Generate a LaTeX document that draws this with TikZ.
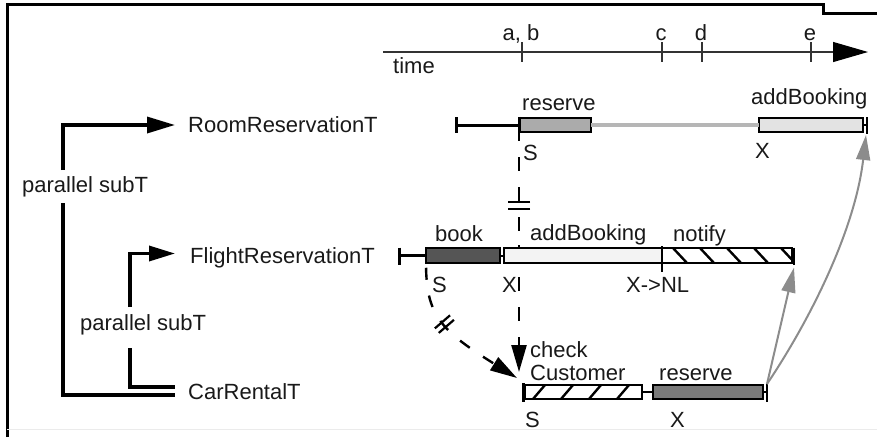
\documentclass[tikz,border=0pt]{standalone}
\usepackage{fontspec}
\setmainfont{Liberation Sans}
\usetikzlibrary{arrows.meta,decorations.markings}
\definecolor{roomres}{HTML}{ABABAB}
\definecolor{roomab}{HTML}{E3E3E3}
\definecolor{roomline}{HTML}{B6B6B6}
\definecolor{bookc}{HTML}{555555}
\definecolor{fabc}{HTML}{F3F3F3}
\definecolor{carres}{HTML}{7A7A7A}
\definecolor{depc}{HTML}{8C8C8C}
\begin{document}
\begin{tikzpicture}[x=1pt,y=-1pt,
  lbl/.style={font=\fontsize{22}{26}\selectfont, inner sep=0pt, text=black!90},
  task/.style={lbl, text height=15.8pt, text depth=0pt, anchor=west},
  seg/.style={draw=black, line width=2pt, minimum height=14.5pt, inner sep=0pt, outer sep=0pt, anchor=west},
  rowline/.style={line width=3pt},
  tick/.style={line width=3pt},
  endtick/.style={line width=2pt},
  tree/.style={line width=3.4pt},
  flow/.style={line width=2.4pt},
  dep/.style={draw=depc, line width=2pt, -{Triangle[length=25pt,width=14pt]}},
  hatch/.style={line width=2.4pt}
]
\useasboundingbox (0,0) rectangle (877,437);

% frame
\draw[line width=3pt] (7,437) -- (7,4) -- (823,4) -- (823,13) -- (877,13);
\draw[black!8, line width=1pt] (7,429) -- (877,429);

% time axis
\coordinate (tl0) at (383,52);
\coordinate (tl1) at (868,52);
\draw[line width=1.1pt, black!80, -{Triangle[length=35pt,width=20pt,black]}] (tl0) -- (tl1);
\foreach \x/\t [count=\i] in {522/{a, b},662/c,702/d,811/e}{
  \draw[line width=1.1pt, black!80] (\x,42) -- (\x,62);
  \node[lbl, anchor=base] (tk\i) at (\x-1,40) {\t};
}
\node[lbl, anchor=base west] (time) at (393,73) {time};

% transaction names and the subtransaction tree
\node[task] (room) at (188,125) {RoomReservationT};
\node[task] (flight) at (190,255.5) {FlightReservationT};
\node[task] (car) at (188,392) {CarRentalT};
\node[lbl, anchor=base west] (ps1) at (22,192) {parallel subT};
\node[lbl, anchor=base west] (ps2) at (80,330) {parallel subT};
\coordinate (j1) at (63,170);
\coordinate (j2) at (63,203);
\coordinate (j3) at (130,307);
\coordinate (j4) at (130,348);
\draw[tree, -{Triangle[length=28pt,width=16pt]}] (j1) |- ([xshift=-13pt]room.west);
\draw[tree] (j2) |- ([xshift=-13pt,yshift=-3pt]car.west);
\draw[tree, -{Triangle[length=26pt,width=15pt]}] (j3) |- ([xshift=-15pt,yshift=2pt]flight.west);
\draw[tree] (j4) |- ([xshift=-13pt,yshift=5pt]car.west);

% RoomReservationT row
\coordinate (rs) at (456,125);
\node[seg, fill=roomres, minimum width=72pt] (rres) at (519,125) {};
\node[seg, fill=roomab, minimum width=104pt] (rab) at (759,125) {};
\coordinate (re) at (867,125);
\draw[rowline] (rs) -- (rres.west);
\draw[tick] ([yshift=8pt]rs) -- ([yshift=-8pt]rs);
\draw[tick] ([yshift=1pt]rres.north west) -- (rres.south west);
\draw[line width=3.2pt, roomline] (rres.east) -- (rab.west);
\draw[endtick] (rab.east) -- (re);
\draw[endtick] ([yshift=8pt]re) -- ([yshift=-9pt]re);
\node[lbl, anchor=base west] (lrres) at (522,110) {reserve};
\node[lbl, anchor=base west] (lrab) at (751,104) {addBooking};
\node[lbl, anchor=base west] (lrs) at (523,160) {S};
\node[lbl, anchor=base west] (lrx) at (755,158) {X};

% ordering from RoomReservationT.reserve to CarRentalT, passing behind the flight row
\coordinate (ctip) at (519,372);
\draw[flow, dash pattern=on 14pt off 16pt, dash phase=5pt,
      -{Triangle[length=27pt,width=15pt]},
      postaction={decorate, decoration={markings,
        mark=at position 70pt with {\draw[solid,-,line width=2.2pt] (0,-11) -- (0,11) (7,-11) -- (7,11);}}}]
  (rres.south west) -- (ctip);

% FlightReservationT row
\coordinate (fs) at (399,255.5);
\node[seg, fill=bookc, minimum width=74pt] (fbook) at (426,255.5) {};
\node[seg, fill=fabc, minimum width=158pt] (fab) at (504,255.5) {};
\node[seg, fill=white, minimum width=130pt] (fnt) at (662,255.5) {};
\coordinate (fe) at (794,255.5);
\begin{scope}
  \clip (fnt.south west) rectangle (fnt.north east);
  \foreach \x in {673,700,727,754,781}
    \draw[hatch] (\x,248) -- (\x+14,263);
\end{scope}
\draw[line width=2pt] (fnt.south west) rectangle (fnt.north east);
\draw[rowline] (fs) -- (fbook.west);
\draw[tick] ([yshift=8pt]fs) -- ([yshift=-9pt]fs);
\draw[line width=2pt] (fbook.east) -- (fab.west);
\draw[endtick] ([yshift=2pt]fab.north east) -- ([yshift=-9pt]fab.south east);
\draw[line width=1.4pt] ([yshift=3pt]fab.north west -| ctip) -- (fab.north west -| ctip);
\draw[endtick] (fnt.east) -- (fe);
\draw[endtick] ([yshift=8pt]fe) -- ([yshift=-9pt]fe);
\node[lbl, anchor=base west] (lbook) at (435,241) {book};
\node[lbl, anchor=base west] (lfab) at (530,240) {addBooking};
\node[lbl, anchor=base west] (lfnt) at (673,241) {notify};
\node[lbl, anchor=base west] (lfs) at (432,292) {S};
\node[lbl, anchor=base west] (lfx) at (502,292) {X};
\node[lbl, anchor=base west] (lfnl) at (626,292) {X->NL};

% CarRentalT row
\coordinate (cs) at (523,392);
\node[seg, fill=white, minimum width=117pt] (cchk) at (525,392) {};
\node[seg, fill=carres, minimum width=110pt] (cres) at (653,392) {};
\coordinate (ce) at (767,392);
\begin{scope}
  \clip (cchk.south west) rectangle (cchk.north east);
  \foreach \x in {533,561,589,617}
    \draw[hatch] (\x,399) -- (\x+12,385);
\end{scope}
\draw[line width=2pt] (cchk.south west) rectangle (cchk.north east);
\draw[tick] ([yshift=9pt]cs) -- ([yshift=-10pt]cs);
\draw[line width=2.2pt] (cchk.east) -- (cres.west);
\draw[endtick] (cres.east) -- (ce);
\draw[endtick] ([yshift=9pt]ce) -- ([yshift=-10pt]ce);
\node[lbl, anchor=base west] (lchk1) at (530,357) {check};
\node[lbl, anchor=base west] (lchk2) at (530,380) {Customer};
\node[lbl, anchor=base west] (lcres) at (659,380) {reserve};
\node[lbl, anchor=base west] (lcs) at (525,427) {S};
\node[lbl, anchor=base west] (lcx) at (670,427) {X};

% remaining dependencies
\coordinate (ctip2) at (517,378);
\draw[flow, dash pattern=on 12pt off 16pt, dash phase=23pt,
      -{Triangle[length=27pt,width=15pt]},
      postaction={decorate, decoration={markings,
        mark=at position 0.42 with {\draw[solid,-,line width=2.2pt] (-3,-10) -- (-3,10) (3,-10) -- (3,10);}}}]
  (fbook.south west) .. controls (426,315) and (440,330) .. (ctip2);
\draw[dep] ([yshift=8pt]ce) -- ([yshift=-12pt]fe);
\draw[dep] ([yshift=8pt]ce) .. controls (810,320) and (855,230) .. ([yshift=-10pt,xshift=-1pt]re);
\end{tikzpicture}
\end{document}
